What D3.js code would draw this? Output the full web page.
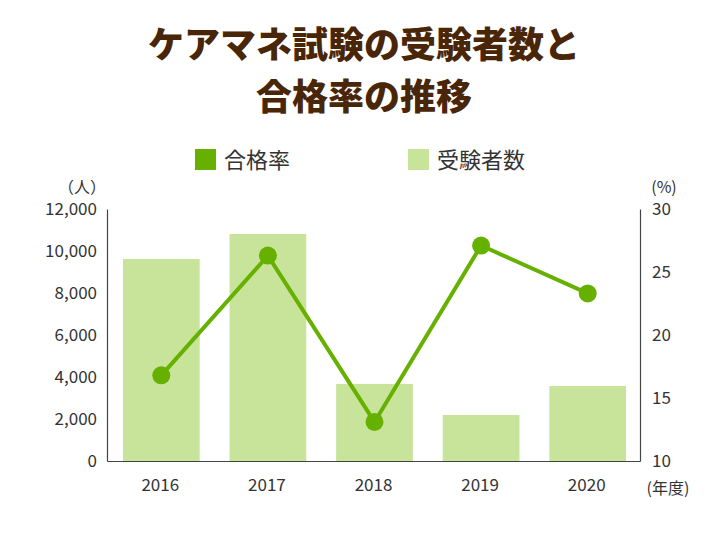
<!DOCTYPE html>
<html><head><meta charset="utf-8">
<script src="https://cdn.jsdelivr.net/npm/d3@7"></script>
<style>body{margin:0;background:#fff}text{font-family:"Noto Sans CJK JP","Noto Sans",sans-serif}</style>
</head><body>
<svg id="c" width="726" height="545"></svg>
<script>
const years = ["2016","2017","2018","2019","2020"];
const examinees = [9620, 10810, 3670, 2190, 3570];
const passRate = [16.8, 26.3, 13.1, 27.1, 23.3];
const leftTicks = [0,2000,4000,6000,8000,10000,12000];
const rightTicks = [10,15,20,25,30];

const svg = d3.select("#c");
const L=107,R=640,T=209,B=461;
const barC="#c8e49a", lineC="#66b000", txt="#333", brown="#4a2608";
const x=d3.scaleBand().domain(years).range([L,R]).paddingInner(0.28).paddingOuter(0.14);
const yL=d3.scaleLinear().domain([0,12000]).range([B,T]);
const yR=d3.scaleLinear().domain([10,30]).range([B,T]);

svg.append("text").attr("x",364).attr("y",58).attr("text-anchor","middle").attr("font-size",36).attr("font-weight",900).attr("fill",brown).text("ケアマネ試験の受験者数と");
svg.append("text").attr("x",364).attr("y",110).attr("text-anchor","middle").attr("font-size",36).attr("font-weight",900).attr("fill",brown).text("合格率の推移");

svg.append("rect").attr("x",195).attr("y",149).attr("width",21).attr("height",21).attr("fill",lineC);
svg.append("text").attr("x",224).attr("y",168).attr("font-size",22).attr("fill",txt).text("合格率");
svg.append("rect").attr("x",408).attr("y",149).attr("width",21).attr("height",21).attr("fill",barC);
svg.append("text").attr("x",437).attr("y",168).attr("font-size",22).attr("fill",txt).text("受験者数");

svg.selectAll(".bar").data(years).join("rect")
 .attr("x",d=>x(d)+1).attr("width",x.bandwidth())
 .attr("y",(d,i)=>yL(examinees[i])).attr("height",(d,i)=>B-yL(examinees[i])).attr("fill",barC);

const gl=svg.append("g").attr("transform",`translate(${L},0)`).call(d3.axisLeft(yL).tickValues(leftTicks).tickFormat(d3.format(",")).tickSize(0).tickPadding(10));
const gr=svg.append("g").attr("transform",`translate(${R},0)`).call(d3.axisRight(yR).tickValues(rightTicks).tickSize(0).tickPadding(12));
const gb=svg.append("g").attr("transform",`translate(0,${B})`).call(d3.axisBottom(x).tickSize(0).tickPadding(18));
[gl,gr,gb].forEach(g=>{g.select(".domain").attr("stroke","#444").attr("stroke-width",1.2);g.selectAll("text").attr("font-size",17).attr("fill",txt).attr("font-family","'Noto Sans CJK JP',sans-serif");});

svg.append("text").attr("x",82).attr("y",193).attr("text-anchor","middle").attr("font-size",16).attr("fill",txt).text("（人）");
svg.append("text").attr("x",664).attr("y",193).attr("text-anchor","middle").attr("font-size",16).attr("fill",txt).text("(%)");
svg.append("text").attr("x",668).attr("y",494).attr("text-anchor","middle").attr("font-size",16).attr("fill",txt).text("(年度)");

const cx=d=>x(d)+x.bandwidth()/2+1;
svg.append("path").datum(years).attr("fill","none").attr("stroke",lineC).attr("stroke-width",4)
 .attr("d",d3.line().x(d=>cx(d)).y((d,i)=>yR(passRate[i])));
svg.selectAll(".pt").data(years).join("circle").attr("cx",d=>cx(d)).attr("cy",(d,i)=>yR(passRate[i])).attr("r",9).attr("fill",lineC);
</script></body></html>
